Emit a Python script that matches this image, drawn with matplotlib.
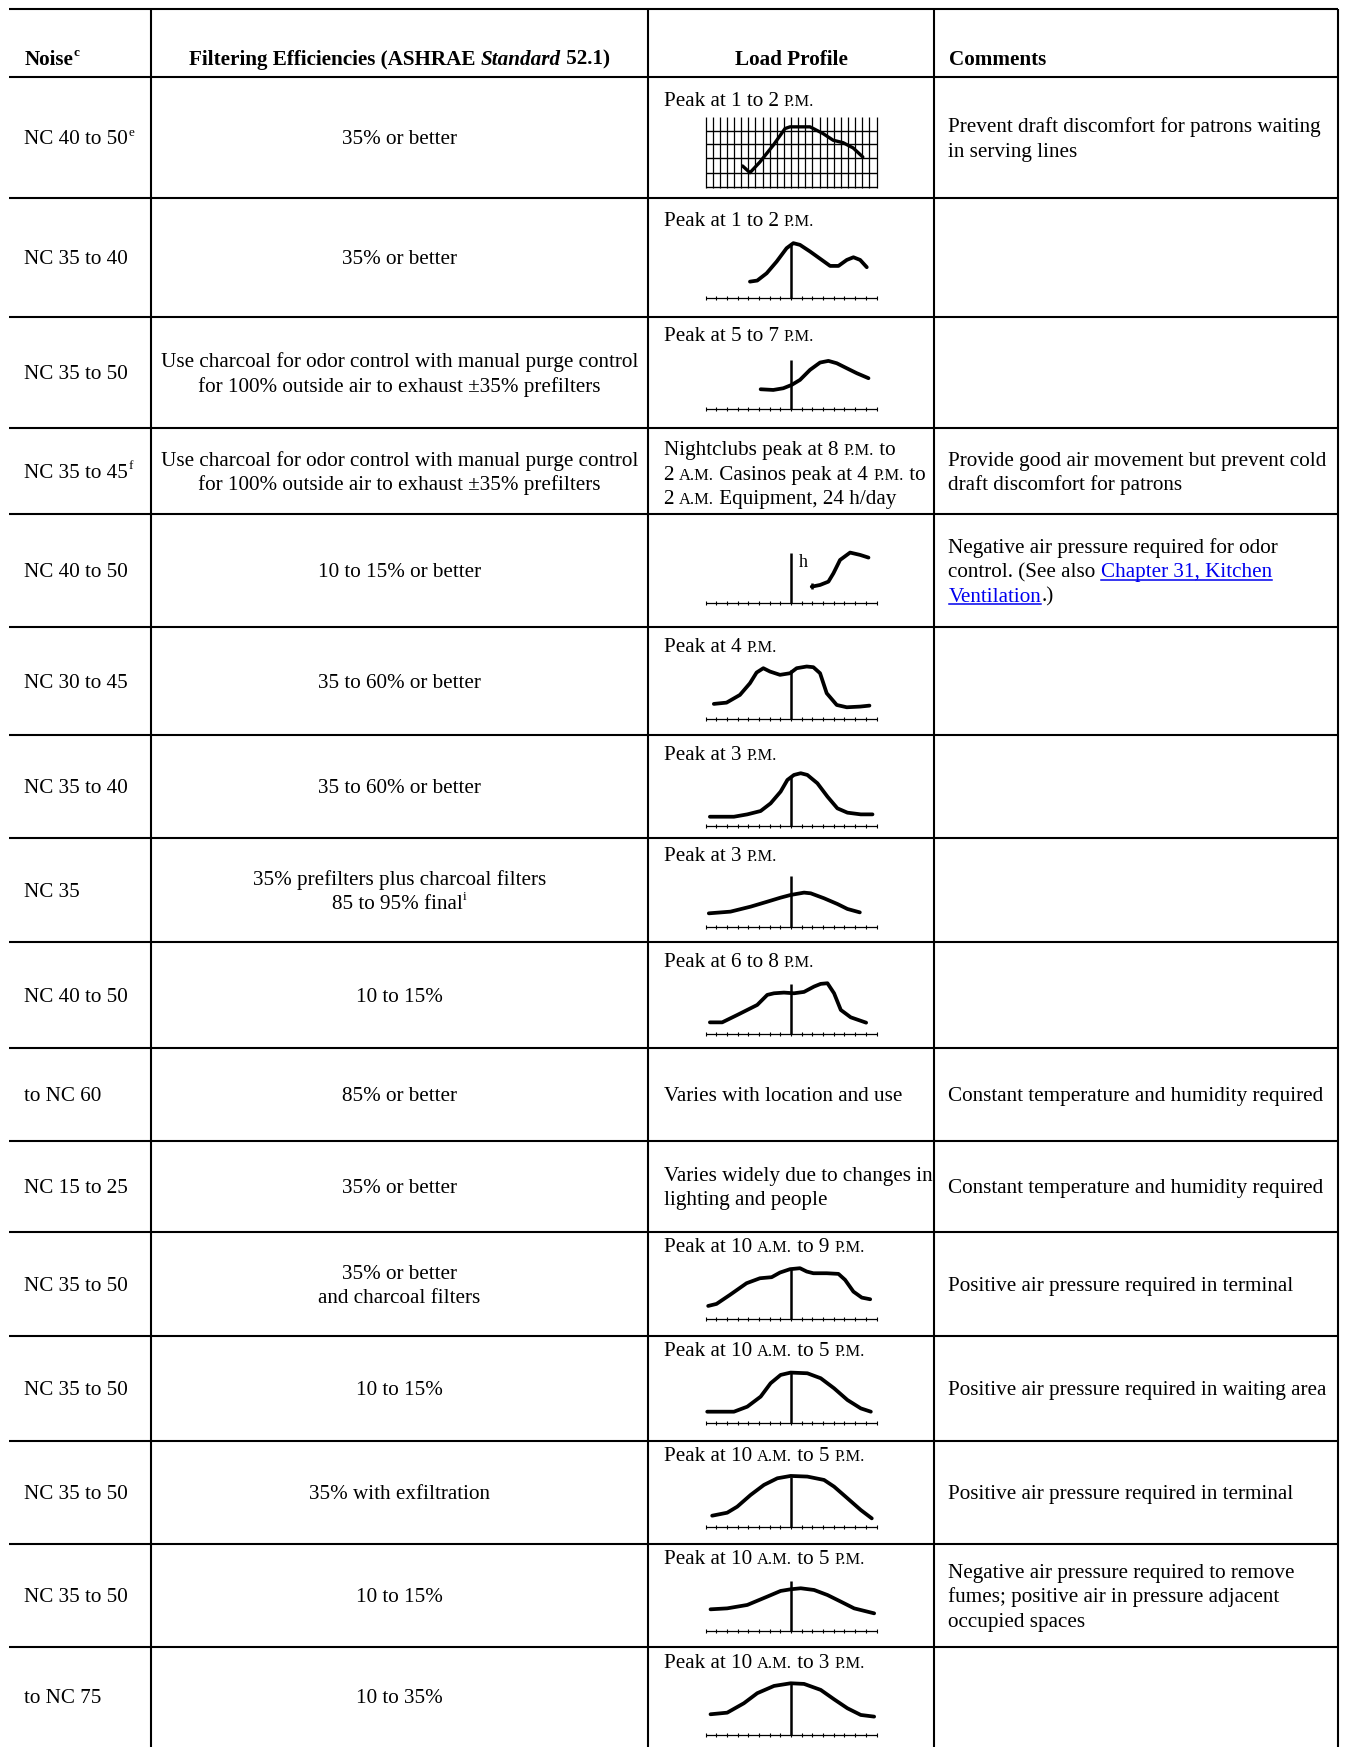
import re
import matplotlib.pyplot as plt

# ---------------- data ----------------
header = ["Noise^c", "Filtering Efficiencies (ASHRAE *Standard* 52.1)", "Load Profile", "Comments"]

noise = ["NC 40 to 50^e", "NC 35 to 40", "NC 35 to 50", "NC 35 to 45^f", "NC 40 to 50",
         "NC 30 to 45", "NC 35 to 40", "NC 35", "NC 40 to 50", "to NC 60", "NC 15 to 25",
         "NC 35 to 50", "NC 35 to 50", "NC 35 to 50", "NC 35 to 50", "to NC 75"]

charcoal = ["Use charcoal for odor control with manual purge control",
            "for 100% outside air to exhaust \u00b135% prefilters"]
filtering = [["35% or better"], ["35% or better"], charcoal, charcoal,
             ["10 to 15% or better"], ["35 to 60% or better"], ["35 to 60% or better"],
             ["35% prefilters plus charcoal filters", "85 to 95% final^i"],
             ["10 to 15%"], ["85% or better"], ["35% or better"],
             ["35% or better", "and charcoal filters"], ["10 to 15%"],
             ["35% with exfiltration"], ["10 to 15%"], ["10 to 35%"]]

load_text = [["Peak at 1 to 2 {P.M.}"], ["Peak at 1 to 2 {P.M.}"], ["Peak at 5 to 7 {P.M.}"],
             ["Nightclubs peak at 8 {P.M.} to", "2 {A.M.} Casinos peak at 4 {P.M.} to",
              "2 {A.M.} Equipment, 24 h/day"],
             [], ["Peak at 4 {P.M.}"], ["Peak at 3 {P.M.}"], ["Peak at 3 {P.M.}"],
             ["Peak at 6 to 8 {P.M.}"], ["Varies with location and use"],
             ["Varies widely due to changes in", "lighting and people"],
             ["Peak at 10 {A.M.} to 9 {P.M.}"], ["Peak at 10 {A.M.} to 5 {P.M.}"],
             ["Peak at 10 {A.M.} to 5 {P.M.}"], ["Peak at 10 {A.M.} to 5 {P.M.}"],
             ["Peak at 10 {A.M.} to 3 {P.M.}"]]
load_text_centered = [9, 10]

comments = [["Prevent draft discomfort for patrons waiting", "in serving lines"], [], [],
            ["Provide good air movement but prevent cold", "draft discomfort for patrons"],
            ["Negative air pressure required for odor", "control. (See also [Chapter 31, Kitchen]",
             "[Ventilation].)"],
            [], [], [], [],
            ["Constant temperature and humidity required"],
            ["Constant temperature and humidity required"],
            ["Positive air pressure required in terminal"],
            ["Positive air pressure required in waiting area"],
            ["Positive air pressure required in terminal"],
            ["Negative air pressure required to remove", "fumes; positive air in pressure adjacent",
             "occupied spaces"], []]

# load profile curves (x: hours from peak mark, y: relative load)
p1_x = [-4.53, -3.84, -2.91, -1.66, -0.56, -0.09, 1.78, 3.0, 3.94, 4.87, 5.81, 6.72]
p1_y = [2.09, 1.46, 2.46, 4.03, 5.59, 5.75, 5.75, 5.12, 4.5, 4.27, 3.78, 2.93]
p2_x = [-3.84, -3.16, -2.28, -1.34, -0.41, 0.22, 0.84, 1.78, 2.88, 3.66, 4.44, 5.22, 5.84, 6.47, 7.09]
p2_y = [1.56, 1.66, 2.34, 3.44, 4.69, 5.16, 5.0, 4.38, 3.59, 3.03, 3.03, 3.59, 3.84, 3.59, 2.91]
p3_x = [-2.84, -1.66, -0.72, 0.06, 0.84, 1.78, 2.72, 3.5, 4.28, 5.22, 6.16, 7.25]
p3_y = [1.875, 1.81, 1.97, 2.28, 2.75, 3.69, 4.375, 4.53, 4.31, 3.84, 3.375, 2.91]
p5_x = [1.94, 2.72, 3.5, 3.97, 4.59, 5.53, 6.47, 7.25]
p5_y = [1.5, 1.66, 1.97, 2.75, 4.0, 4.69, 4.47, 4.22]
p6_x = [-7.22, -6.03, -4.78, -3.84, -3.22, -2.59, -1.97, -1.03, -0.09, 0.53, 1.47, 2.09, 2.72,
        3.34, 4.28, 5.22, 6.47, 7.34]
p6_y = [1.44, 1.56, 2.28, 3.375, 4.375, 4.78, 4.47, 4.16, 4.31, 4.78, 4.94, 4.875, 4.31,
        2.44, 1.34, 1.125, 1.19, 1.28]
p7_x = [-7.59, -5.34, -4.09, -2.84, -1.91, -0.97, -0.34, 0.28, 0.91, 1.53, 2.47, 3.41, 4.34,
        5.28, 6.53, 7.625]
p7_y = [0.84, 0.84, 1.06, 1.375, 2.09, 3.19, 4.28, 4.75, 4.91, 4.75, 3.97, 2.72, 1.625,
        1.22, 1.06, 1.06]
p8_x = [-7.69, -5.66, -3.78, -2.22, -0.97, -0.03, 1.22, 1.84, 3.09, 4.34, 5.28, 6.44]
p8_y = [1.25, 1.41, 1.875, 2.34, 2.72, 2.97, 3.19, 3.125, 2.66, 2.125, 1.66, 1.34]
p9_x = [-7.59, -6.44, -5.03, -3.16, -2.22, -1.59, -0.66, 0.28, 1.22, 2.16, 2.78, 3.41, 4.03,
        4.66, 5.59, 7.03]
p9_y = [1.09, 1.09, 1.78, 2.72, 3.66, 3.81, 3.875, 3.81, 3.94, 4.44, 4.69, 4.75, 3.81,
        2.25, 1.56, 1.06]
p12_x = [-7.75, -6.97, -5.72, -4.16, -2.91, -1.81, -1.03, -0.09, 0.84, 1.47, 2.09, 3.34, 4.44,
         5.06, 5.84, 6.625, 7.41]
p12_y = [1.25, 1.44, 2.28, 3.375, 3.84, 3.94, 4.375, 4.69, 4.78, 4.47, 4.31, 4.31, 4.25,
         3.69, 2.59, 2.03, 1.875]
p13_x = [-7.84, -5.34, -4.09, -2.84, -1.91, -0.97, -0.03, 1.53, 2.78, 4.03, 5.28, 6.53, 7.47]
p13_y = [1.03, 1.03, 1.5, 2.44, 3.69, 4.47, 4.69, 4.625, 4.16, 3.22, 2.125, 1.34, 1.03]
p14_x = [-7.375, -5.97, -5.03, -3.78, -2.53, -1.28, -0.03, 1.53, 3.09, 4.03, 5.28, 6.53, 7.56]
p14_y = [1.03, 1.31, 1.875, 2.97, 3.91, 4.53, 4.75, 4.69, 4.375, 3.75, 2.66, 1.56, 0.78]
p15_x = [-7.53, -5.97, -4.09, -2.22, -0.97, -0.03, 0.91, 2.16, 3.41, 4.66, 5.91, 7.78]
p15_y = [2.0, 2.09, 2.41, 3.19, 3.72, 3.875, 3.97, 3.81, 3.34, 2.72, 2.09, 1.625]
p16_x = [-7.53, -5.97, -4.41, -3.16, -1.59, -0.03, 1.22, 2.78, 4.03, 5.28, 6.53, 7.78]
p16_y = [1.94, 2.09, 2.97, 3.91, 4.59, 4.84, 4.78, 4.22, 3.34, 2.5, 1.875, 1.72]

# row index -> (x, y, height of the peak marker line)
profiles = {1: (p2_x, p2_y, 5.2), 2: (p3_x, p3_y, 4.6), 4: (p5_x, p5_y, 4.63),
            5: (p6_x, p6_y, 4.63), 6: (p7_x, p7_y, 4.6), 7: (p8_x, p8_y, 4.75),
            8: (p9_x, p9_y, 4.69), 11: (p12_x, p12_y, 4.69), 12: (p13_x, p13_y, 4.625),
            13: (p14_x, p14_y, 4.69), 14: (p15_x, p15_y, 4.69), 15: (p16_x, p16_y, 4.84)}

# ---------------- layout ----------------
W, H, DPI = 1347, 1747, 100
FONT = ['Liberation Serif', 'DejaVu Serif']
FS = 15.2
PX = FS * DPI / 72.0
LS = 24.4
LINK = '#0000ee'

row_lines = [9, 76.7, 198.3, 316.7, 428.3, 514.3, 626.7, 734.5, 838.3, 941.5, 1048, 1141,
             1231.5, 1336, 1440.5, 1543.5, 1647.3]
row_bottom_last = 1744
col_lines = [151, 648, 934, 1338]
label_off = [22.6, 21, 17.3, 20, 0, 18.3, 18.3, 15.7, 18.3, 0, 0, 13.5, 13.3, 13.3, 13.3, 13.3]
baselines = [188.3, 298.3, 409.3, None, 602.7, 719.3, 825.7, 926.7, 1034, None, None,
             1319.3, 1422.7, 1526.7, 1630.7, 1735]
CX = 791
U = 171 / 16.0

fig = plt.figure(figsize=(W / DPI, H / DPI), dpi=DPI)
fig.patch.set_facecolor('white')
ax = fig.add_axes([0, 0, 1, 1])
ax.set_xlim(0, W)
ax.set_ylim(H, 0)
ax.axis('off')
renderer = fig.canvas.get_renderer()

ax.hlines(row_lines, 9, col_lines[-1], color='black', lw=1.5)
ax.vlines(col_lines, row_lines[0], H, color='black', lw=1.5)


def parse(line):
    runs = []
    for tok in re.split(r'(\^\w|\{[^}]*\}|\[[^\]]*\]|\*[^*]*\*)', line):
        if not tok:
            continue
        if tok[0] == '^':
            runs.append((tok[1:], 'sup'))
        elif tok[0] == '{':
            runs.append((tok[1:-1], 'sc'))
        elif tok[0] == '[':
            runs.append((tok[1:-1], 'link'))
        elif tok[0] == '*':
            runs.append((tok[1:-1], 'it'))
        else:
            runs.append((tok, 'n'))
    return runs


def run_style(kind, bold):
    kw = dict(family=FONT, fontsize=FS, fontweight='bold' if bold else 'normal',
              fontstyle='normal', color='black')
    dy = 0
    if kind == 'sc':
        kw['fontsize'] = FS * 0.78
    elif kind == 'sup':
        kw['fontsize'] = FS * 0.62
        dy = -0.42 * PX
    elif kind == 'it':
        kw['fontstyle'] = 'italic'
    elif kind == 'link':
        kw['color'] = LINK
    return kw, dy


def width(s, kw):
    t = ax.text(0, 0, '|' + s + '|', **kw)
    w1 = t.get_window_extent(renderer).width
    t.remove()
    t = ax.text(0, 0, '||', **kw)
    w2 = t.get_window_extent(renderer).width
    t.remove()
    return w1 - w2


def draw_line(x, yc, line, ha='left', bold=False):
    runs = parse(line)
    styles = [run_style(k, bold) for _, k in runs]
    widths = [width(s, kw) for (s, _), (kw, _) in zip(runs, styles)]
    if ha == 'center':
        x = x - sum(widths) / 2
    yb = yc + 0.33 * PX
    for (s, k), (kw, dy), w in zip(runs, styles, widths):
        ax.text(x, yb + dy, s, ha='left', va='baseline', **kw)
        if k == 'link':
            ax.plot([x, x + w], [yb + 2.5, yb + 2.5], color=LINK, lw=1.1)
        x += w


def draw_block(x, yc, lines, ha='left'):
    n = len(lines)
    for i, line in enumerate(lines):
        draw_line(x, yc + (i - (n - 1) / 2) * LS, line, ha)


# header
hy = 58
draw_line(24.5, hy, header[0], bold=True)
draw_line((col_lines[0] + col_lines[1]) / 2, hy, header[1], ha='center', bold=True)
draw_line((col_lines[1] + col_lines[2]) / 2, hy, header[2], ha='center', bold=True)
draw_line(948.5, hy, header[3], bold=True)

row_edges = row_lines[1:] + [row_bottom_last]
for i in range(len(noise)):
    top, bot = row_edges[i], row_edges[i + 1]
    yc = (top + bot) / 2
    draw_line(24.5, yc, noise[i])
    draw_block((col_lines[0] + col_lines[1]) / 2, yc, filtering[i], ha='center')
    if load_text[i]:
        if i in load_text_centered:
            draw_block(663.5, yc, load_text[i])
        else:
            for j, line in enumerate(load_text[i]):
                draw_line(663.5, top + label_off[i] + j * LS, line)
    if comments[i]:
        draw_block(948.5, yc, comments[i])


def inset(base):
    x0, x1, y0, y1 = -8.6, 8.6, -0.6, 7.0
    a = fig.add_axes([(CX + x0 * U) / W, 1 - (base - y0 * U) / H,
                      (x1 - x0) * U / W, (y1 - y0) * U / H])
    a.set_xlim(x0, x1)
    a.set_ylim(y0, y1)
    a.axis('off')
    return a


# grid profile (first row)
a = inset(baselines[0])
grid_x = [-8 + k * 2 / 3 for k in range(25)]
a.vlines(grid_x, 0, 6.66, color='black', lw=0.9)
a.hlines([0.15, 1.47, 2.81, 4.125, 5.4], -8, 8, color='black', lw=1.0)
a.plot(p1_x, p1_y, color='black', lw=2.4, solid_joinstyle='round', solid_capstyle='round')

ticks = list(range(-8, 9))
for i, (px, py, peak) in profiles.items():
    a = inset(baselines[i])
    a.hlines(0, -8, 8, color='black', lw=0.9)
    a.vlines(ticks, -0.2, 0.2, color='black', lw=0.8)
    a.vlines(0, 0, peak, color='black', lw=1.8)
    a.plot(px, py, color='black', lw=2.7, solid_joinstyle='round', solid_capstyle='round')
    if i == 4:
        a.vlines(px[0], 1.25, 1.8, color='black', lw=1.8)
        a.text(1.12, 3.75, 'h', family=FONT, fontsize=13, ha='center', va='center')

fig.savefig('out.png', dpi=DPI, facecolor='white')
plt.close(fig)
